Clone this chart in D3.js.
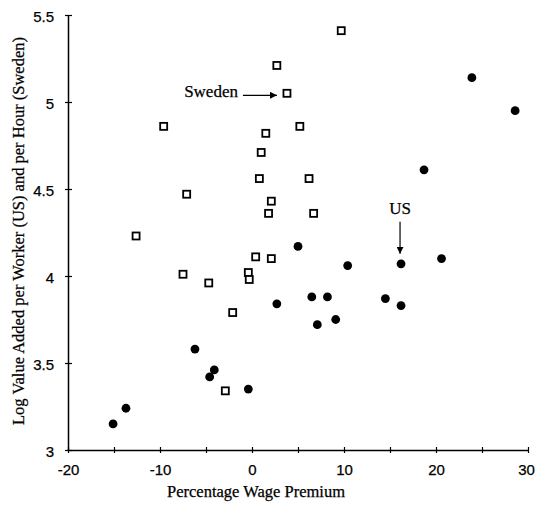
<!DOCTYPE html>
<html>
<head>
<meta charset="utf-8">
<script src="https://cdn.jsdelivr.net/npm/d3@7"></script>
<style>
  body { margin: 0; background: #fff; }
  svg { display: block; font-family: "Liberation Serif", "Times New Roman", serif; }
  svg text { stroke: #000; stroke-width: 0.25px; }
</style>
</head>
<body>
<svg width="535" height="505"></svg>
<script>
// Sweden (per hour) - open squares
const swedenX = [-9.6, -7.1, -12.6, 1.5, 1.0, 0.8, 2.1, 1.8, 9.7, 2.7, 3.8, 5.2, 6.2, 6.7, 0.4, 2.1, -7.5, -4.7, -0.4, -0.3, -2.1, -2.9]
const swedenY = [4.86, 4.47, 4.23, 4.82, 4.71, 4.56, 4.43, 4.36, 5.41, 5.21, 5.05, 4.86, 4.56, 4.36, 4.11, 4.10, 4.01, 3.96, 4.02, 3.98, 3.79, 3.34]

// US (per worker) - filled circles
const usX = [-15.1, -13.7, -6.2, -4.6, -4.1, -0.4, 5.0, 20.6, 10.4, 16.2, 2.7, 6.5, 8.2, 7.1, 9.1, 14.5, 16.2, 23.9, 28.6, 18.7]
const usY = [3.15, 3.24, 3.58, 3.42, 3.46, 3.35, 4.17, 4.10, 4.06, 4.07, 3.84, 3.88, 3.88, 3.72, 3.75, 3.87, 3.83, 5.14, 4.95, 4.61]

const xTicks = [-20, -15, -10, -5, 0, 5, 10, 15, 20, 25, 30]
const yTicks = [3, 3.5, 4, 4.5, 5, 5.5]

const xTitle = "Percentage Wage Premium"
const yTitle = "Log Value Added per Worker (US) and per Hour (Sweden)"

// which points the labels point at
const swedenLabelIdx = 10
const usLabelIdx = 9

const svg = d3.select("svg")

const x = d3.scaleLinear().domain([-20, 30]).range([68, 528])
const y = d3.scaleLinear().domain([3, 5.5]).range([450, 15])

// axes
const xAxis = svg.append("g")
    .attr("transform", `translate(0,${y(3)})`)
    .call(d3.axisBottom(x).tickValues(xTicks).tickSize(0).tickPadding(14)
        .tickFormat(d => d % 10 === 0 ? String(d) : ""))
xAxis.select(".domain").attr("stroke", "#000").attr("stroke-width", 1.5)
xAxis.selectAll(".tick line").attr("stroke", "#000").attr("y1", -3).attr("y2", 3).attr("stroke-width", 1.2)
xAxis.selectAll("text").attr("font-size", 15).attr("fill", "#000").attr("font-family", null)
    .attr("dx", d => d === 30 ? -2 : 0)

const yAxis = svg.append("g")
    .attr("transform", `translate(${x(-20)},0)`)
    .call(d3.axisLeft(y).tickValues(yTicks).tickSize(0).tickPadding(14)
        .tickFormat(d => String(d)))
yAxis.select(".domain").attr("stroke", "#000").attr("stroke-width", 1.5)
yAxis.selectAll(".tick line").attr("stroke", "#000").attr("x1", -3).attr("x2", 4).attr("stroke-width", 1.2)
yAxis.selectAll("text").attr("font-size", 15).attr("fill", "#000").attr("font-family", null).attr("dy", "0.45em")

// titles
svg.append("text")
    .attr("x", 256).attr("y", 497)
    .attr("text-anchor", "middle")
    .attr("font-size", 16.5)
    .text(xTitle)

svg.append("text")
    .attr("transform", `translate(24,231) rotate(-90)`)
    .attr("text-anchor", "middle")
    .attr("font-size", 16.5)
    .text(yTitle)

// points
svg.append("g")
    .selectAll("rect")
    .data(swedenX.map((v, i) => [v, swedenY[i]]))
    .enter()
    .append("rect")
    .attr("x", d => x(d[0]) - 3.5)
    .attr("y", d => y(d[1]) - 3.5)
    .attr("width", 7)
    .attr("height", 7)
    .attr("fill", "#fff")
    .attr("stroke", "#000")
    .attr("stroke-width", 1.8)

svg.append("g")
    .selectAll("circle")
    .data(usX.map((v, i) => [v, usY[i]]))
    .enter()
    .append("circle")
    .attr("cx", d => x(d[0]))
    .attr("cy", d => y(d[1]))
    .attr("r", 4.4)
    .attr("fill", "#000")

// annotations
svg.append("defs").append("marker")
    .attr("id", "arr")
    .attr("viewBox", "0 0 10 10")
    .attr("refX", 10).attr("refY", 5)
    .attr("markerWidth", 7).attr("markerHeight", 7)
    .attr("markerUnits", "userSpaceOnUse")
    .attr("orient", "auto")
    .append("path")
    .attr("d", "M0,0L10,5L0,10z")
    .attr("fill", "#000")

const sx = x(swedenX[swedenLabelIdx]), sy = y(swedenY[swedenLabelIdx])
svg.append("line")
    .attr("x1", sx - 44).attr("y1", sy + 2)
    .attr("x2", sx - 10).attr("y2", sy + 2)
    .attr("stroke", "#000").attr("stroke-width", 1.2)
    .attr("marker-end", "url(#arr)")
svg.append("text")
    .attr("x", sx - 49).attr("y", sy + 3.5)
    .attr("text-anchor", "end")
    .attr("font-size", 17)
    .text("Sweden")

const ux = x(usX[usLabelIdx]), uy = y(usY[usLabelIdx])
svg.append("line")
    .attr("x1", ux - 1).attr("y1", uy - 42)
    .attr("x2", ux - 1).attr("y2", uy - 10)
    .attr("stroke", "#000").attr("stroke-width", 1.2)
    .attr("marker-end", "url(#arr)")
svg.append("text")
    .attr("x", ux - 1).attr("y", uy - 50)
    .attr("text-anchor", "middle")
    .attr("font-size", 17)
    .text("US")
</script>
</body>
</html>
